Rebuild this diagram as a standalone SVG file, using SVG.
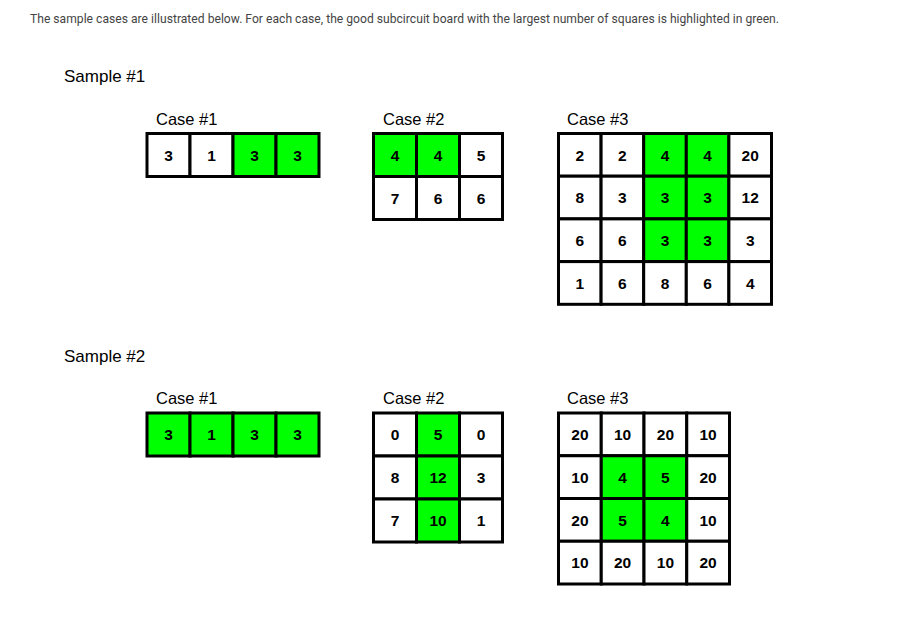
<svg xmlns="http://www.w3.org/2000/svg" width="897" height="619" viewBox="0 0 897 619">
<style>
.t{font-family:Roboto,"Liberation Sans",sans-serif;font-size:12.1px;fill:#444}
.h{font-family:"Liberation Sans",Arial,sans-serif;font-size:17px;fill:#000}
.c{font-family:"Liberation Sans",Arial,sans-serif;font-size:16.5px;fill:#000}
.w{fill:#fff;stroke:#000;stroke-width:3}
.g{fill:#00ff00;stroke:#000;stroke-width:3}
.n{font-family:"Liberation Sans",Arial,sans-serif;font-size:15.5px;font-weight:bold;fill:#000;text-anchor:middle}
</style>
<rect width="897" height="619" fill="#fff"/>
<text class="t" x="30" y="22.5" textLength="749" lengthAdjust="spacing">The sample cases are illustrated below. For each case, the good subcircuit board with the largest number of squares is highlighted in green.</text>
<text class="h" x="64" y="82">Sample #1</text>
<text class="h" x="64" y="362">Sample #2</text>
<text class="c" x="156" y="125">Case #1</text>
<text class="c" x="383" y="125">Case #2</text>
<text class="c" x="567" y="125">Case #3</text>
<text class="c" x="156" y="404">Case #1</text>
<text class="c" x="383" y="404">Case #2</text>
<text class="c" x="567" y="404">Case #3</text>

<g id="s1c1">
<rect class="w" x="147" y="133.5" width="43" height="43"/>
<rect class="w" x="190" y="133.5" width="43" height="43"/>
<rect class="g" x="233" y="133.5" width="43" height="43"/>
<rect class="g" x="276" y="133.5" width="43" height="43"/>
<text class="n" x="168.5" y="160.5">3</text><text class="n" x="211.5" y="160.5">1</text><text class="n" x="254.5" y="160.5">3</text><text class="n" x="297.5" y="160.5">3</text>
</g>

<g id="s1c2">
<rect class="g" x="373.5" y="133.5" width="43" height="43"/>
<rect class="g" x="416.5" y="133.5" width="43" height="43"/>
<rect class="w" x="459.5" y="133.5" width="43" height="43"/>
<rect class="w" x="373.5" y="176.5" width="43" height="43"/>
<rect class="w" x="416.5" y="176.5" width="43" height="43"/>
<rect class="w" x="459.5" y="176.5" width="43" height="43"/>
<text class="n" x="395" y="160.5">4</text><text class="n" x="438" y="160.5">4</text><text class="n" x="481" y="160.5">5</text>
<text class="n" x="395" y="203.5">7</text><text class="n" x="438" y="203.5">6</text><text class="n" x="481" y="203.5">6</text>
</g>

<g id="s1c3">
<rect class="w" x="558.5" y="133.5" width="42.6" height="42.7"/>
<rect class="w" x="601.1" y="133.5" width="42.6" height="42.7"/>
<rect class="g" x="643.7" y="133.5" width="42.6" height="42.7"/>
<rect class="g" x="686.3" y="133.5" width="42.6" height="42.7"/>
<rect class="w" x="728.9" y="133.5" width="42.6" height="42.7"/>
<rect class="w" x="558.5" y="176.2" width="42.6" height="42.7"/>
<rect class="w" x="601.1" y="176.2" width="42.6" height="42.7"/>
<rect class="g" x="643.7" y="176.2" width="42.6" height="42.7"/>
<rect class="g" x="686.3" y="176.2" width="42.6" height="42.7"/>
<rect class="w" x="728.9" y="176.2" width="42.6" height="42.7"/>
<rect class="w" x="558.5" y="218.9" width="42.6" height="42.7"/>
<rect class="w" x="601.1" y="218.9" width="42.6" height="42.7"/>
<rect class="g" x="643.7" y="218.9" width="42.6" height="42.7"/>
<rect class="g" x="686.3" y="218.9" width="42.6" height="42.7"/>
<rect class="w" x="728.9" y="218.9" width="42.6" height="42.7"/>
<rect class="w" x="558.5" y="261.6" width="42.6" height="42.7"/>
<rect class="w" x="601.1" y="261.6" width="42.6" height="42.7"/>
<rect class="w" x="643.7" y="261.6" width="42.6" height="42.7"/>
<rect class="w" x="686.3" y="261.6" width="42.6" height="42.7"/>
<rect class="w" x="728.9" y="261.6" width="42.6" height="42.7"/>
<text class="n" x="579.8" y="160.5">2</text><text class="n" x="622.4" y="160.5">2</text><text class="n" x="665" y="160.5">4</text><text class="n" x="707.6" y="160.5">4</text><text class="n" x="750.2" y="160.5">20</text>
<text class="n" x="579.8" y="203.2">8</text><text class="n" x="622.4" y="203.2">3</text><text class="n" x="665" y="203.2">3</text><text class="n" x="707.6" y="203.2">3</text><text class="n" x="750.2" y="203.2">12</text>
<text class="n" x="579.8" y="245.9">6</text><text class="n" x="622.4" y="245.9">6</text><text class="n" x="665" y="245.9">3</text><text class="n" x="707.6" y="245.9">3</text><text class="n" x="750.2" y="245.9">3</text>
<text class="n" x="579.8" y="288.6">1</text><text class="n" x="622.4" y="288.6">6</text><text class="n" x="665" y="288.6">8</text><text class="n" x="707.6" y="288.6">6</text><text class="n" x="750.2" y="288.6">4</text>
</g>

<g id="s2c1">
<rect class="g" x="147" y="413" width="43" height="43"/>
<rect class="g" x="190" y="413" width="43" height="43"/>
<rect class="g" x="233" y="413" width="43" height="43"/>
<rect class="g" x="276" y="413" width="43" height="43"/>
<text class="n" x="168.5" y="440">3</text><text class="n" x="211.5" y="440">1</text><text class="n" x="254.5" y="440">3</text><text class="n" x="297.5" y="440">3</text>
</g>

<g id="s2c2">
<rect class="w" x="373.5" y="413" width="43" height="43"/>
<rect class="g" x="416.5" y="413" width="43" height="43"/>
<rect class="w" x="459.5" y="413" width="43" height="43"/>
<rect class="w" x="373.5" y="456" width="43" height="43"/>
<rect class="g" x="416.5" y="456" width="43" height="43"/>
<rect class="w" x="459.5" y="456" width="43" height="43"/>
<rect class="w" x="373.5" y="499" width="43" height="43"/>
<rect class="g" x="416.5" y="499" width="43" height="43"/>
<rect class="w" x="459.5" y="499" width="43" height="43"/>
<text class="n" x="395" y="440">0</text><text class="n" x="438" y="440">5</text><text class="n" x="481" y="440">0</text>
<text class="n" x="395" y="483">8</text><text class="n" x="438" y="483">12</text><text class="n" x="481" y="483">3</text>
<text class="n" x="395" y="526">7</text><text class="n" x="438" y="526">10</text><text class="n" x="481" y="526">1</text>
</g>

<g id="s2c3">
<rect class="w" x="558.5" y="413" width="42.75" height="42.75"/>
<rect class="w" x="601.25" y="413" width="42.75" height="42.75"/>
<rect class="w" x="644" y="413" width="42.75" height="42.75"/>
<rect class="w" x="686.75" y="413" width="42.75" height="42.75"/>
<rect class="w" x="558.5" y="455.75" width="42.75" height="42.75"/>
<rect class="g" x="601.25" y="455.75" width="42.75" height="42.75"/>
<rect class="g" x="644" y="455.75" width="42.75" height="42.75"/>
<rect class="w" x="686.75" y="455.75" width="42.75" height="42.75"/>
<rect class="w" x="558.5" y="498.5" width="42.75" height="42.75"/>
<rect class="g" x="601.25" y="498.5" width="42.75" height="42.75"/>
<rect class="g" x="644" y="498.5" width="42.75" height="42.75"/>
<rect class="w" x="686.75" y="498.5" width="42.75" height="42.75"/>
<rect class="w" x="558.5" y="541.25" width="42.75" height="42.75"/>
<rect class="w" x="601.25" y="541.25" width="42.75" height="42.75"/>
<rect class="w" x="644" y="541.25" width="42.75" height="42.75"/>
<rect class="w" x="686.75" y="541.25" width="42.75" height="42.75"/>
<text class="n" x="579.9" y="440">20</text><text class="n" x="622.6" y="440">10</text><text class="n" x="665.4" y="440">20</text><text class="n" x="708.1" y="440">10</text>
<text class="n" x="579.9" y="482.8">10</text><text class="n" x="622.6" y="482.8">4</text><text class="n" x="665.4" y="482.8">5</text><text class="n" x="708.1" y="482.8">20</text>
<text class="n" x="579.9" y="525.5">20</text><text class="n" x="622.6" y="525.5">5</text><text class="n" x="665.4" y="525.5">4</text><text class="n" x="708.1" y="525.5">10</text>
<text class="n" x="579.9" y="568.3">10</text><text class="n" x="622.6" y="568.3">20</text><text class="n" x="665.4" y="568.3">10</text><text class="n" x="708.1" y="568.3">20</text>
</g>
</svg>
